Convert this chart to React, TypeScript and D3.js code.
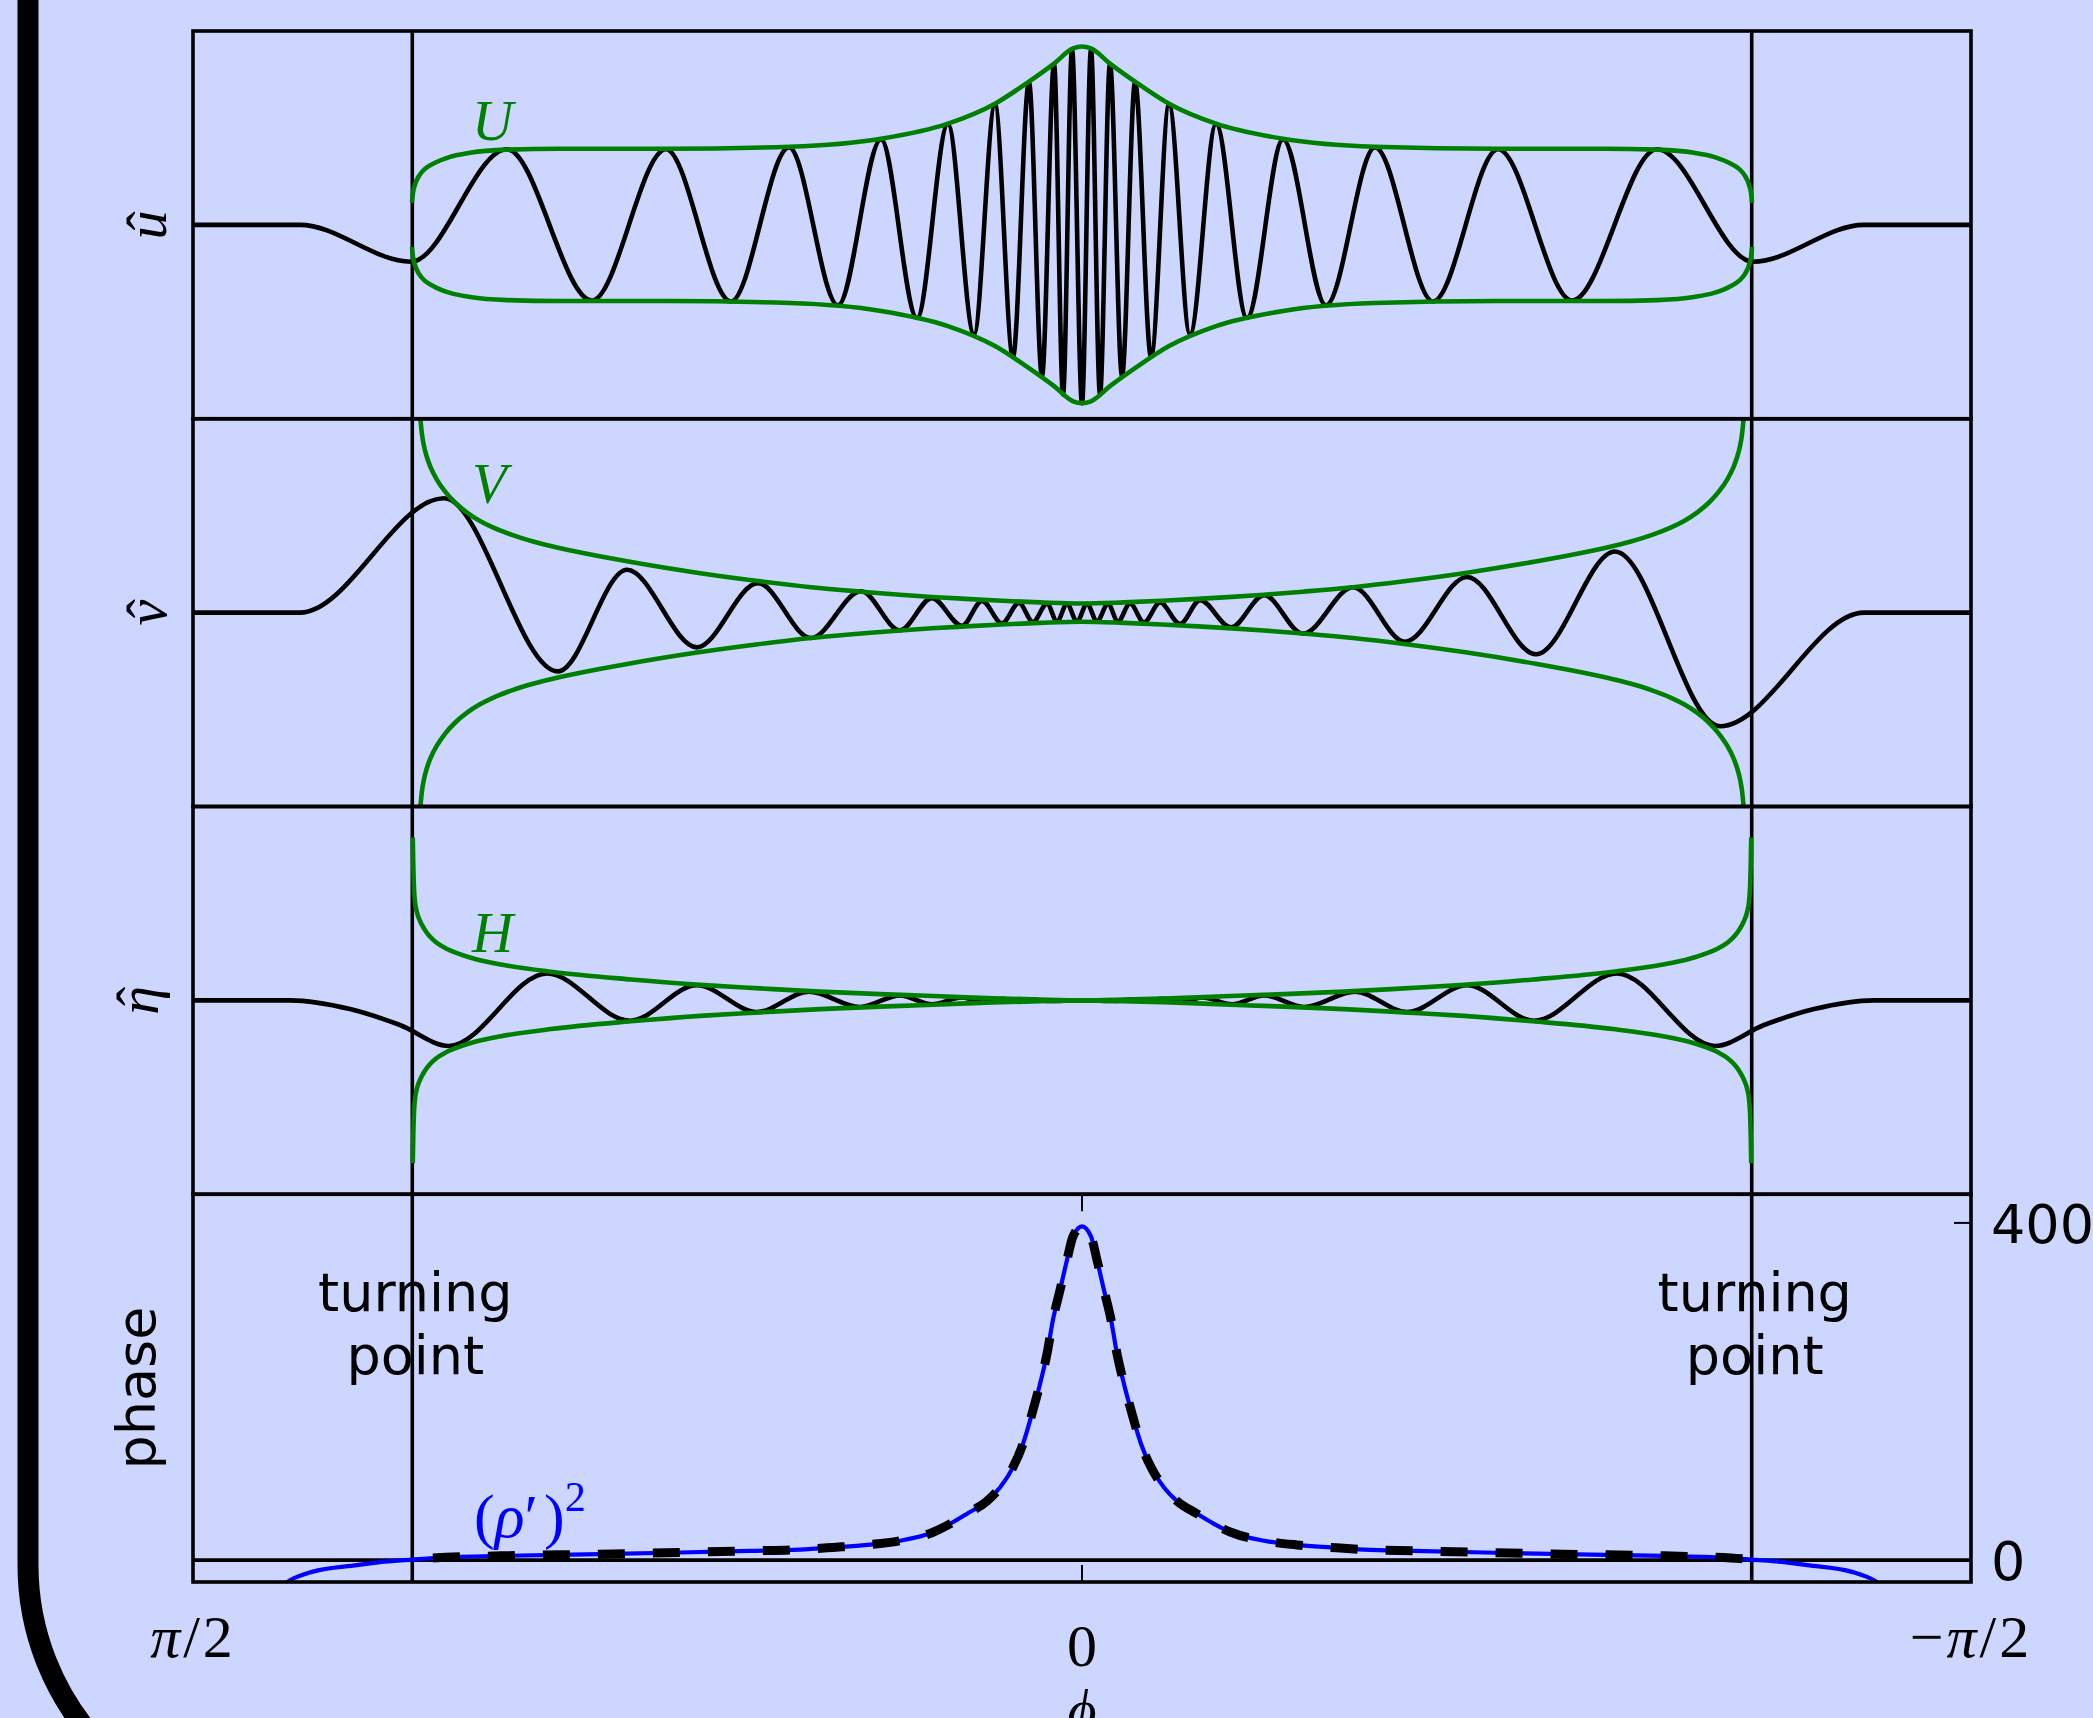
import React from 'react';
import * as d3 from 'd3';

const W = 2093;
const H = 1718;

// x variable: latitude phi in degrees (90 = pi/2, -90 = -pi/2)
const xDomain = [90, -90];
const turningPhi = [67.8, -67.8];
const xTicks = [90, 0, -90];
const xTickLabels = ['π/2', '0', '−π/2'];
const phaseTicks = [0, 400];
const phaseTickLabels = ['0', '400'];
const phaseDomain = [-26, 434];

// panel 1: u-hat (normalised units, +-1 = panel edges)
const uHat: [number, number][] = [
  [90, 0], [79.17, 0], [67.93, -0.19], [58.21, 0.39], [49.61, -0.39], [42.12, 0.39],
  [35.54, -0.395], [29.66, 0.4], [24.7, -0.415], [20.35, 0.44], [16.7, -0.48],
  [13.57, 0.52], [10.93, -0.565], [8.81, 0.62], [6.99, -0.68], [5.37, 0.735],
  [4.05, -0.78], [2.83, 0.83], [1.92, -0.875], [1.01, 0.905], [0, -0.92],
  [-0.91, 0.905], [-1.82, -0.875], [-2.83, 0.83], [-4.05, -0.78], [-5.37, 0.735],
  [-6.99, -0.68], [-8.81, 0.62], [-10.93, -0.565], [-13.57, 0.52], [-16.7, -0.48],
  [-20.35, 0.44], [-24.7, -0.415], [-29.66, 0.4], [-35.54, -0.395], [-42.12, 0.39],
  [-49.61, -0.39], [-58.21, 0.39], [-67.93, -0.19], [-79.17, 0], [-90, 0],
];
const envU: [number, number][] = [
  [67.83, 0.114], [67.73, 0.165], [67.53, 0.207], [67.12, 0.253], [66.51, 0.289],
  [65.7, 0.315], [63.98, 0.351], [61.96, 0.372], [58.21, 0.388], [52.85, 0.393],
  [42.12, 0.393], [29.56, 0.403], [20.35, 0.444], [13.57, 0.522], [8.81, 0.625],
  [5.37, 0.739], [2.83, 0.832], [0.91, 0.91], [0, 0.92], [-0.91, 0.91],
  [-2.83, 0.832], [-5.37, 0.739], [-8.81, 0.625], [-13.57, 0.522], [-20.35, 0.444],
  [-29.56, 0.403], [-42.12, 0.393], [-52.85, 0.393], [-58.21, 0.388], [-61.96, 0.372],
  [-63.98, 0.351], [-65.7, 0.315], [-66.51, 0.289], [-67.12, 0.253], [-67.53, 0.207],
  [-67.73, 0.165], [-67.83, 0.114],
];

// panel 2: v-hat
const vHat: [number, number][] = [
  [90, 0], [79.17, 0], [64.59, 0.59], [53.05, -0.303], [46.06, 0.221], [38.98, -0.179],
  [32.8, 0.152], [27.44, -0.131], [22.37, 0.11], [18.43, -0.091], [15.19, 0.075],
  [12.15, -0.068], [10.12, 0.06], [8.1, -0.055], [6.38, 0.05], [4.96, -0.048],
  [3.54, 0.046], [2.53, -0.046], [1.52, 0.045], [0.51, -0.045], [-0.51, 0.045],
  [-1.52, -0.045], [-2.63, 0.045], [-3.64, -0.046], [-4.86, 0.047], [-6.28, -0.05],
  [-7.9, 0.052], [-9.92, -0.058], [-11.95, 0.064], [-15.08, -0.076], [-18.43, 0.09],
  [-22.37, -0.108], [-27.44, 0.131], [-32.7, -0.15], [-38.98, 0.184], [-45.96, -0.215],
  [-53.96, 0.315], [-64.59, -0.586], [-79.17, 0], [-90, 0],
];
const envV: [number, number][] = [
  [67.07, 1.05], [66.97, 0.995], [66.82, 0.92], [66.62, 0.86], [66.31, 0.8], [65.91, 0.745],
  [65.3, 0.685], [64.49, 0.625], [63.48, 0.568], [62.26, 0.516], [60.95, 0.473],
  [59.53, 0.437], [57.71, 0.401], [55.48, 0.366], [53.05, 0.335], [48.7, 0.29],
  [46.06, 0.265], [38.98, 0.206], [32.8, 0.163], [27.44, 0.131], [22.37, 0.108],
  [18.43, 0.092], [15.19, 0.081], [12.15, 0.072], [8.1, 0.061], [4.25, 0.053], [0, 0.047],
  [-4.25, 0.053], [-8.1, 0.061], [-12.15, 0.072], [-15.19, 0.081], [-18.43, 0.092],
  [-22.37, 0.108], [-27.44, 0.131], [-32.8, 0.163], [-38.98, 0.206], [-46.06, 0.265],
  [-48.7, 0.29], [-53.05, 0.335], [-55.48, 0.366], [-57.71, 0.401], [-59.53, 0.437],
  [-60.95, 0.473], [-62.26, 0.516], [-63.48, 0.568], [-64.49, 0.625], [-65.3, 0.685],
  [-65.91, 0.745], [-66.31, 0.8], [-66.62, 0.86], [-66.82, 0.92], [-66.97, 0.995],
  [-67.07, 1.05],
];

// panel 3: eta-hat
const etaHat: [number, number][] = [
  [90, 0], [80.18, 0], [74.11, -0.045], [69.05, -0.127], [64.08, -0.235], [54.16, 0.139],
  [45.76, -0.105], [38.98, 0.078], [32.9, -0.06], [27.64, 0.045], [22.48, -0.034],
  [18.43, 0.026], [15.19, -0.02], [12.15, 0.015], [10.12, -0.011], [8.1, 0.008],
  [6.38, -0.006], [4.96, 0.004], [3.54, -0.003], [0, 0], [-3.54, -0.003], [-4.96, 0.004],
  [-6.38, -0.006], [-8.1, 0.008], [-10.12, -0.011], [-12.15, 0.015], [-15.19, -0.02],
  [-18.43, 0.026], [-22.48, -0.034], [-27.64, 0.045], [-32.9, -0.06], [-38.98, 0.078],
  [-45.76, -0.105], [-54.16, 0.139], [-64.08, -0.235], [-69.05, -0.127], [-74.11, -0.045],
  [-80.18, 0], [-90, 0],
];
const envH: [number, number][] = [
  [67.75, 0.84], [67.7, 0.7], [67.63, 0.58], [67.53, 0.51], [67.33, 0.455], [67.02, 0.41],
  [66.61, 0.37], [66.11, 0.335], [65.4, 0.3], [64.39, 0.268], [63.07, 0.24], [61.35, 0.212],
  [58.82, 0.185], [53.76, 0.148], [45.66, 0.108], [38.67, 0.08], [32.6, 0.062],
  [26.52, 0.045], [20.45, 0.032], [16.4, 0.025], [12.35, 0.017], [8.3, 0.01], [4.25, 0.004],
  [0, 0], [-4.25, 0.004], [-8.3, 0.01], [-12.35, 0.017], [-16.4, 0.025], [-20.45, 0.032],
  [-26.52, 0.045], [-32.6, 0.062], [-38.67, 0.08], [-45.66, 0.108], [-53.76, 0.148],
  [-58.82, 0.185], [-61.35, 0.212], [-63.07, 0.24], [-64.39, 0.268], [-65.4, 0.3],
  [-66.11, 0.335], [-66.61, 0.37], [-67.02, 0.41], [-67.33, 0.455], [-67.53, 0.51],
  [-67.63, 0.58], [-67.7, 0.7], [-67.75, 0.84],
];

// panel 4: (rho')^2 (phase)
const rhoPrimeSq: [number, number][] = [
  [81.19, -32], [80.18, -24], [77.95, -14], [73.4, -6], [71.07, -2.5], [67.83, 0.5],
  [65.7, 2.5], [58.92, 5], [48.8, 7], [40.7, 9], [33.61, 11], [28.55, 12.5], [25.21, 15],
  [21.77, 18], [18.43, 23], [15.08, 33], [13.36, 43], [11.64, 55], [9.62, 70], [8.3, 86],
  [6.99, 110], [5.97, 138], [4.96, 178], [4.25, 209], [3.54, 245], [2.94, 285], [2.23, 320],
  [1.52, 356], [0.91, 384], [0, 396], [-0.91, 384], [-1.52, 356], [-2.23, 320], [-2.94, 285],
  [-3.54, 245], [-4.25, 209], [-4.96, 178], [-5.97, 138], [-6.99, 110], [-8.3, 86],
  [-9.62, 70], [-11.64, 55], [-13.36, 43], [-15.08, 33], [-18.43, 23], [-21.77, 18],
  [-25.21, 15], [-28.55, 12.5], [-33.61, 11], [-40.7, 9], [-48.8, 7], [-58.92, 5],
  [-65.7, 2.5], [-67.83, 0.5], [-71.07, -2.5], [-73.4, -6], [-77.95, -14], [-80.18, -24],
  [-81.19, -32],
];

const BG = 'rgb(204,214,255)';
const GREEN = '#008000';
const BLUE = '#0000ff';
const MATH = "'Liberation Serif', 'DejaVu Serif', serif";
const SANS = "'DejaVu Sans', sans-serif";

const X0 = 193;
const X1 = 1971;
const TOP = 31;
const BOTTOM = 1582;
const PH = (BOTTOM - TOP) / 4;

const CURVE_W = 4.6;
const SPINE_W = 3.6;

export default function App() {
  const x = d3.scaleLinear().domain(xDomain).range([X0, X1]);
  const pTop = (i: number) => TOP + i * PH;
  const yP = (i: number) => d3.scaleLinear().domain([-1, 1]).range([pTop(i) + PH, pTop(i)]);
  const yPh = d3.scaleLinear().domain(phaseDomain).range([BOTTOM, pTop(3)]);

  const mk = (ys: d3.ScaleLinear<number, number>, sign = 1) =>
    d3
      .line<[number, number]>()
      .x((d) => x(d[0]))
      .y((d) => ys(sign * d[1]))
      .curve(d3.curveMonotoneX);

  const panels = [
    { data: uHat, env: envU, base: 'u', envLabel: 'U', lx: 166, ly: 140 },
    { data: vHat, env: envV, base: 'v', envLabel: 'V', lx: 166, ly: 503 },
    { data: etaHat, env: envH, base: 'η', envLabel: 'H', lx: 158, ly: 952 },
  ];

  const dashed = rhoPrimeSq.filter((d) => Math.abs(d[0]) <= turningPhi[0] + 0.05);

  return (
    <svg
      width={W}
      height={H}
      viewBox={`0 0 ${W} ${H}`}
      style={{ position: 'absolute', left: 0, top: 0, display: 'block' }}
    >
      <rect x={0} y={0} width={W} height={H} fill={BG} />
      <rect x={28} y={-400} width={2400} height={2227} rx={262} ry={262} fill={BG} stroke="#000" strokeWidth={21} />
      <defs>
        {[0, 1, 2, 3].map((i) => (
          <clipPath id={`clip${i}`} key={i}>
            <rect x={X0} y={pTop(i)} width={X1 - X0} height={PH} />
          </clipPath>
        ))}
      </defs>

      {/* turning point lines */}
      {turningPhi.map((t, i) => (
        <line key={i} x1={x(t)} x2={x(t)} y1={TOP} y2={BOTTOM} stroke="#000" strokeWidth={SPINE_W} />
      ))}

      {panels.map((p, i) => {
        const ys = yP(i);
        return (
          <g key={i}>
            <g clipPath={`url(#clip${i})`}>
              <path d={mk(ys)(p.data) || ''} fill="none" stroke="#000" strokeWidth={CURVE_W} />
              <path d={mk(ys)(p.env) || ''} fill="none" stroke={GREEN} strokeWidth={CURVE_W} />
              <path d={mk(ys, -1)(p.env) || ''} fill="none" stroke={GREEN} strokeWidth={CURVE_W} />
            </g>
            <text x={472} y={p.ly} fill={GREEN} fontFamily={MATH} fontStyle="italic" fontSize={57}>
              {p.envLabel}
            </text>
            <g transform={`translate(${p.lx},${pTop(i) + PH / 2}) rotate(-90)`} fontFamily={MATH} fontSize={58}>
              <text x={0} y={0} textAnchor="middle" fontStyle="italic">
                {p.base}
              </text>
              <text x={4} y={p.base === 'η' ? -2 : 0} textAnchor="middle">
                ˆ
              </text>
            </g>
          </g>
        );
      })}

      {/* phase panel */}
      <g clipPath="url(#clip3)">
        <line x1={X0} x2={X1} y1={yPh(0)} y2={yPh(0)} stroke="#000" strokeWidth={SPINE_W} />
        <path d={mk(yPh)(rhoPrimeSq) || ''} fill="none" stroke={BLUE} strokeWidth={4.2} />
        <path
          d={mk(yPh)(dashed) || ''}
          fill="none"
          stroke="#000"
          strokeWidth={9}
          strokeDasharray="27 28"
          strokeDashoffset={34}
        />
      </g>

      {/* spines */}
      {[0, 1, 2, 3].map((i) => (
        <rect key={i} x={X0} y={pTop(i)} width={X1 - X0} height={PH} fill="none" stroke="#000" strokeWidth={SPINE_W} />
      ))}

      {/* ticks */}
      <line x1={x(0)} x2={x(0)} y1={pTop(3)} y2={pTop(3) + 17} stroke="#000" strokeWidth={2} />
      <line x1={x(0)} x2={x(0)} y1={BOTTOM} y2={BOTTOM - 17} stroke="#000" strokeWidth={2} />
      {phaseTicks.map((t, i) => (
        <g key={i}>
          <line x1={X1} x2={X1 - 17} y1={yPh(t)} y2={yPh(t)} stroke="#000" strokeWidth={2} />
          <text x={X1 + 20} y={yPh(t) + 20} fontFamily={SANS} fontSize={54}>
            {phaseTickLabels[i]}
          </text>
        </g>
      ))}

      {/* x tick labels */}
      {xTicks.map((t, i) => {
        const lab = xTickLabels[i];
        const parts = lab.split('π');
        return (
          <text
            key={i}
            x={x(t)}
            y={t === 0 ? 1666 : 1657}
            textAnchor="middle"
            fontFamily={MATH}
            fontSize={60}
            letterSpacing={parts.length > 1 ? 3 : 0}
          >
            {parts.length > 1 ? (
              <>
                {parts[0]}
                <tspan fontStyle="italic">π</tspan>
                {parts[1]}
              </>
            ) : (
              lab
            )}
          </text>
        );
      })}
      <text x={x(0)} y={1729} textAnchor="middle" fontFamily={MATH} fontStyle="italic" fontSize={56}>
        ϕ
      </text>

      {/* annotations */}
      {turningPhi.map((t, i) => (
        <g key={i} fontFamily={SANS} fontSize={54} textAnchor="middle">
          <text x={x(t) + 3} y={1311}>turning</text>
          <text x={x(t) + 3} y={1374}>point</text>
        </g>
      ))}
      <text
        transform={`translate(155,${pTop(3) + PH / 2}) rotate(-90)`}
        textAnchor="middle"
        fontFamily={SANS}
        fontSize={54}
      >
        phase
      </text>
      <text x={474} y={1537} fill={BLUE} fontFamily={MATH} fontSize={62}>
        (<tspan fontStyle="italic">ρ</tspan>′<tspan dx={6}>)</tspan>
        <tspan dy={-26} fontSize={42}>2</tspan>
      </text>
    </svg>
  );
}
